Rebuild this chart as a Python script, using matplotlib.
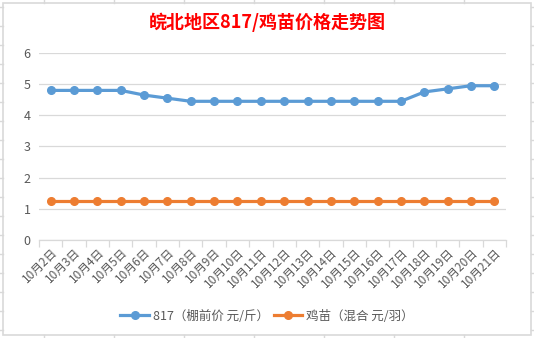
import matplotlib
matplotlib.use('Agg')
import matplotlib.pyplot as plt
from matplotlib.lines import Line2D

plt.rcParams['font.family'] = ['Noto Sans CJK SC', 'DejaVu Sans']

# data
dates = ['10月2日', '10月3日', '10月4日', '10月5日', '10月6日', '10月7日', '10月8日',
         '10月9日', '10月10日', '10月11日', '10月12日', '10月13日', '10月14日',
         '10月15日', '10月16日', '10月17日', '10月18日', '10月19日', '10月20日', '10月21日']
price_817 = [4.8, 4.8, 4.8, 4.8, 4.65, 4.55, 4.45, 4.45, 4.45, 4.45, 4.45, 4.45,
             4.45, 4.45, 4.45, 4.45, 4.75, 4.85, 4.95, 4.95]
price_chick = [1.25] * 20
label_817 = '817（棚前价 元/斤）'
label_chick = '鸡苗（混合 元/羽）'
title = '皖北地区817/鸡苗价格走势图'

W, H = 534, 338
fig = plt.figure(figsize=(W / 100, H / 100), dpi=100)
ax = fig.add_axes([39 / W, 1 - 240 / H, (506 - 39) / W, (240 - 53) / H])

grid_c = '#d9d9d9'
text_c = '#595959'
x = list(range(len(dates)))
ax.plot(x, price_817, color='#5b9bd5', lw=2.3, marker='o', ms=5.5, label=label_817, zorder=3)
ax.plot(x, price_chick, color='#ed7d31', lw=2.3, marker='o', ms=5.5, label=label_chick, zorder=3)

ax.set_xlim(-0.5, len(dates) - 0.5)
ax.set_ylim(0, 6)
ax.set_yticks(range(7))
ax.yaxis.grid(True, color=grid_c, lw=0.9)
ax.set_axisbelow(True)
for s in ['top', 'right', 'left']:
    ax.spines[s].set_visible(False)
ax.spines['bottom'].set_color(grid_c)
ax.spines['bottom'].set_linewidth(0.9)
ax.tick_params(axis='y', length=0, pad=6, labelsize=9, labelcolor=text_c)

# category ticks between points
ax.set_xticks([i - 0.5 for i in range(len(dates) + 1)], minor=True)
ax.tick_params(axis='x', which='minor', length=5, color=grid_c, width=0.9)
ax.set_xticks(x)
ax.set_xticklabels(dates, rotation=45, ha='right', va='top', rotation_mode='anchor')
ax.tick_params(axis='x', which='major', length=0, pad=4, labelsize=8.5, labelcolor=text_c)

fig.suptitle(title, x=0.5, y=1 - 22 / H, va='center', color='red', fontsize=13, fontweight='bold')

fig.legend(handles=[Line2D([], [], color='#5b9bd5', lw=2.3, marker='o', ms=5.5),
                    Line2D([], [], color='#ed7d31', lw=2.3, marker='o', ms=5.5)],
           labels=[label_817, label_chick], loc='center', bbox_to_anchor=(0.5, 1 - 316 / H),
           ncol=2, frameon=False, fontsize=9, labelcolor=text_c, handlelength=2.3,
           handletextpad=0.3, columnspacing=0.4)

# chart border and spreadsheet grid ticks
bx0, by0, bx1, by1 = 3, 3, 531, 335
fig.add_artist(plt.Rectangle((bx0 / W, 1 - by1 / H), (bx1 - bx0) / W, (by1 - by0) / H,
                             transform=fig.transFigure, fill=False, ec=grid_c, lw=1.2))
for px in range(44, W, 70):
    fig.add_artist(Line2D([px / W, px / W], [1, 1 - by0 / H], color=grid_c, lw=1))
    fig.add_artist(Line2D([px / W, px / W], [0, 1 - by1 / H], color=grid_c, lw=1))
for py in range(7, H, 19):
    fig.add_artist(Line2D([0, bx0 / W], [1 - py / H, 1 - py / H], color=grid_c, lw=1))
    fig.add_artist(Line2D([bx1 / W, 1], [1 - py / H, 1 - py / H], color=grid_c, lw=1))

fig.savefig('out.png', dpi=100)
